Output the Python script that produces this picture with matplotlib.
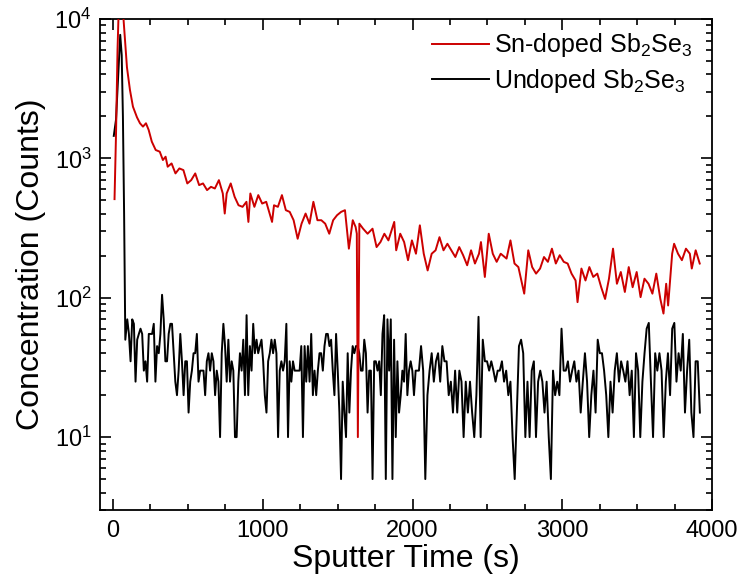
import numpy as np
import matplotlib
matplotlib.use("Agg")
import matplotlib.pyplot as plt
from matplotlib.ticker import LogLocator, MultipleLocator, LogFormatterSciNotation, NullFormatter

plt.rcParams['font.family'] = ['Liberation Sans', 'DejaVu Sans']
plt.rcParams['mathtext.fontset'] = 'custom'
plt.rcParams['mathtext.rm'] = 'Liberation Sans'
plt.rcParams['mathtext.it'] = 'Liberation Sans:italic'
plt.rcParams['mathtext.bf'] = 'Liberation Sans:bold'

# ---------------- data ----------------
red_t = [10, 20, 30, 40, 50, 60, 70, 93, 113, 133, 160, 180, 200, 220, 238, 259, 285, 312,
         333, 351, 365, 391, 417, 443, 470, 496, 522, 549, 575, 601, 628, 654, 680, 707,
         733, 746, 759, 786, 812, 838, 865, 891, 904, 917, 944, 970, 996, 1023, 1062, 1075,
         1101, 1128, 1154, 1180, 1206, 1233, 1259, 1286, 1312, 1338, 1365, 1391, 1417, 1444,
         1470, 1496, 1523, 1549, 1575, 1601, 1620, 1628, 1635, 1645, 1670, 1700, 1733, 1760,
         1786, 1812, 1839, 1878, 1891, 1918, 1944, 1970, 1996, 2023, 2049, 2075, 2101, 2128,
         2154, 2180, 2207, 2233, 2259, 2286, 2312, 2338, 2365, 2391, 2417, 2444, 2457, 2483,
         2509, 2536, 2562, 2589, 2628, 2654, 2681, 2707, 2746, 2773, 2799, 2825, 2852, 2878,
         2904, 2931, 2957, 2983, 3010, 3036, 3062, 3089, 3102, 3128, 3155, 3181, 3207, 3234,
         3260, 3286, 3312, 3339, 3365, 3391, 3418, 3444, 3470, 3497, 3523, 3549, 3576, 3602,
         3628, 3655, 3676, 3694, 3707, 3734, 3747, 3773, 3799, 3826, 3852, 3865, 3891, 3918]
red_v = [510, 1500, 6000, 14000, 20000, 16000, 10000, 4500, 3100, 2350, 1970, 1786, 1690, 1786,
         1600, 1318, 1148, 1117, 973, 1028, 871, 920, 780, 847, 824, 661, 698, 780, 643, 661,
         592, 625, 608, 698, 560, 402, 560, 661, 530, 461, 449, 488, 350, 560, 449, 545, 474,
         488, 350, 461, 449, 545, 425, 413, 360, 265, 340, 402, 340, 488, 360, 360, 340, 288,
         360, 391, 413, 425, 225, 360, 322, 288, 10, 340, 313, 288, 313, 231, 251, 288, 258,
         350, 219, 288, 251, 186, 258, 207, 331, 207, 157, 207, 219, 272, 219, 244, 219, 196,
         231, 202, 171, 219, 176, 207, 251, 141, 288, 207, 181, 207, 191, 258, 176, 166, 107,
         219, 166, 149, 162, 196, 181, 225, 176, 202, 181, 176, 149, 133, 93, 162, 133, 166,
         141, 149, 119, 98, 137, 225, 126, 153, 110, 166, 119, 153, 101, 137, 126, 107, 149,
         98, 77, 126, 88, 207, 244, 207, 186, 225, 207, 162, 219, 176]

black_head_t = [5, 20, 35, 48, 58, 66, 74, 82]
black_head_v = [1450, 1900, 4000, 7700, 5500, 2000, 400, 50]

# evenly sampled part of the undoped profile, 95 s .. 2043 s
black_mid_start, black_mid_end = 95, 2043
black_mid_v = [70, 55, 35, 70, 65, 25, 50, 55, 60, 55, 30, 35, 25, 55, 55, 55, 65, 25, 45, 40,
               55, 105, 70, 35, 35, 55, 65, 65, 40, 25, 20, 30, 55, 35, 20, 35, 35, 15, 25, 30,
               40, 40, 55, 25, 30, 30, 30, 20, 35, 40, 30, 40, 35, 20, 30, 25, 10, 40, 65, 45,
               25, 50, 25, 35, 30, 10, 10, 25, 40, 30, 50, 20, 75, 20, 45, 30, 65, 40, 50, 40,
               45, 50, 35, 20, 15, 35, 40, 50, 40, 50, 40, 10, 30, 35, 30, 35, 65, 10, 35, 25,
               35, 30, 30, 30, 30, 45,
               10, 45, 25, 45, 25, 55, 20, 30, 20, 30, 40, 40, 30, 45, 55, 55, 45, 50, 30, 20,
               55, 30, 15, 5, 25, 15, 10, 40, 15, 30, 45, 40, 45, 45, 40, 30, 30, 50, 40, 15,
               30, 30, 5, 35, 35, 30, 35, 20, 55, 75, 5, 70, 30, 70, 5, 50, 10, 35, 15, 20,
               30, 25, 55, 20, 30, 35, 30, 20, 30, 30, 30]

# evenly sampled part of the undoped profile, 2057 s .. 3919 s
black_tail_start, black_tail_end = 2057, 3919
black_tail_v = [45, 30, 5, 20, 30, 40, 25, 35, 40,
                25, 45, 35, 35, 20, 25, 15, 30, 15, 30, 25, 10, 25, 15, 25, 15, 10, 20, 73, 10,
                50, 35, 35, 30, 35, 30, 25, 30, 30, 35, 25, 30, 20, 25, 10, 5, 15, 45, 50, 40,
                10, 25, 10, 30, 35, 10, 25, 30, 25, 15, 25, 10, 5, 30, 20, 25, 20, 60, 30, 30,
                35, 25, 30, 35, 25, 30, 15, 25, 40, 25, 10, 20, 30, 15, 50, 40, 40, 30, 20, 10,
                25, 15, 30, 40, 25, 35, 30, 25, 35, 20, 30, 10, 40, 30, 10, 25, 40, 60, 66, 25,
                10, 40, 30, 40, 30, 10, 25, 40, 20, 60, 66, 25, 40, 30, 55, 15, 30, 50, 15, 10,
                35, 35, 15]

label_red = 'Sn-doped Sb$_2$Se$_3$'
label_black = 'Undoped Sb$_2$Se$_3$'
xlabel = 'Sputter Time (s)'
ylabel = 'Concentration (Counts)'

# ---------------- assemble ----------------
black_mid_t = np.linspace(black_mid_start, black_mid_end, len(black_mid_v))
black_tail_t = np.linspace(black_tail_start, black_tail_end, len(black_tail_v))
black_t = np.concatenate([black_head_t, black_mid_t, black_tail_t])
black_v = np.concatenate([black_head_v, black_mid_v, black_tail_v])

fig = plt.figure(figsize=(7.39, 5.83), dpi=100)
ax = fig.add_axes([100/739, 1 - 510/583, 612/739, 491/583])

red_color = '#CC0000'
ax.plot(red_t, red_v, color=red_color, lw=1.4, label=label_red, zorder=3)
ax.plot(black_t, black_v, color='black', lw=1.4, label=label_black, zorder=2)

ax.set_yscale('log')
ax.set_xlim(-87, 4000)
ax.set_ylim(3, 1e4)

ax.xaxis.set_major_locator(MultipleLocator(1000))
ax.xaxis.set_minor_locator(MultipleLocator(250))
ax.yaxis.set_major_locator(LogLocator(base=10, numticks=10))
ax.yaxis.set_minor_locator(LogLocator(base=10, subs=np.arange(2, 10), numticks=20))
ax.yaxis.set_major_formatter(LogFormatterSciNotation())
ax.yaxis.set_minor_formatter(NullFormatter())

ax.tick_params(which='both', direction='in', top=True, right=True, width=1.2, labelsize=17)
ax.tick_params(which='major', length=8)
ax.tick_params(which='minor', length=4)
ax.tick_params(axis='x', pad=7)
ax.tick_params(axis='y', pad=6)
for s in ax.spines.values():
    s.set_linewidth(1.3)

ax.set_xlabel(xlabel, fontsize=23, labelpad=2)
ax.set_ylabel(ylabel, fontsize=23, labelpad=6)

leg = ax.legend(loc='upper right', frameon=False, fontsize=18, handlelength=2.3,
                handletextpad=0.2, labelspacing=0.3, borderaxespad=0.0,
                bbox_to_anchor=(0.985, 0.995))

fig.savefig('out.png', dpi=100)
